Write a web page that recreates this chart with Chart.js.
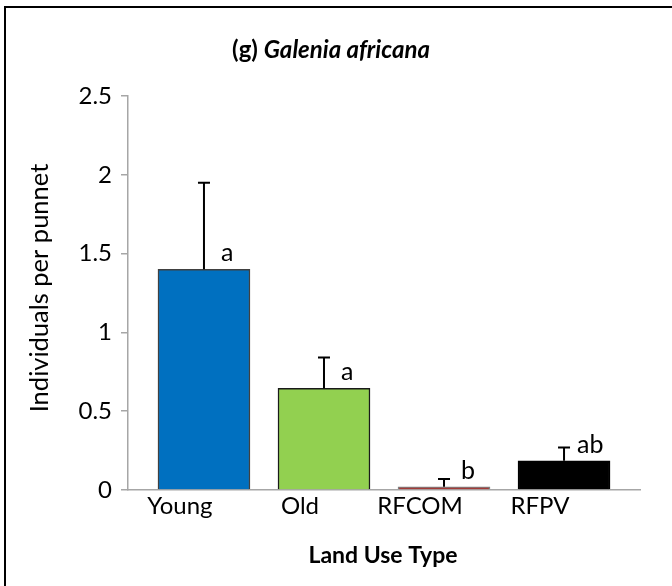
<!DOCTYPE html>
<html>
<head>
<meta charset="utf-8">
<script src="https://cdn.jsdelivr.net/npm/chart.js@4.4.1/dist/chart.umd.min.js"></script>
<style>
  body { margin: 0; background: #fff; }
  #wrap { width: 672px; height: 586px; }
</style>
</head>
<body>
<div id="wrap"><canvas id="chart" width="672" height="586"></canvas></div>
<script>
// values
const categories = ['Young', 'Old', 'RFCOM', 'RFPV'];
const means = [1.4, 0.645, 0.02, 0.185];
const errorPlus = [0.55, 0.195, 0.05, 0.085];
const letters = ['a', 'a', 'b', 'ab'];
const yTicks = [0, 0.5, 1, 1.5, 2, 2.5];

const barColors = ['#0070C0', '#92D050', '#A33B38', '#000000'];
const barBorders = ['#404040', '#1a1a1a', '#808080', '#000000'];
const FONT = 'Lato, "Open Sans", sans-serif';

// error bars, letters, category labels, titles and frame
const extras = {
  id: 'extras',
  afterDatasetsDraw(chart) {
    const { ctx, scales: { x, y } } = chart;
    ctx.save();
    ctx.strokeStyle = '#000';
    ctx.lineWidth = 2;
    means.forEach((m, i) => {
      const px = x.getPixelForValue(i);
      const yBar = y.getPixelForValue(m);
      const yTop = y.getPixelForValue(m + errorPlus[i]);
      ctx.beginPath();
      ctx.moveTo(px, yBar);
      ctx.lineTo(px, yTop);
      ctx.moveTo(px - 6, yTop);
      ctx.lineTo(px + 6, yTop);
      ctx.stroke();

      ctx.fillStyle = '#000';
      ctx.font = '25px ' + FONT;
      ctx.textAlign = 'left';
      ctx.textBaseline = 'alphabetic';
      ctx.fillText(letters[i], px + (letters[i].length > 1 ? 13 : 17), yBar - 8);

      ctx.font = '24px ' + FONT;
      ctx.textAlign = 'center';
      ctx.fillText(categories[i], px - 24, 514);
    });

    // title, mixed bold / bold italic
    const t1 = '(g) ', t2 = 'Galenia africana';
    ctx.font = 'bold 24px ' + FONT;
    const w1 = ctx.measureText(t1).width;
    ctx.font = 'italic bold 24px ' + FONT;
    const w2 = ctx.measureText(t2).width;
    const tx = 331 - (w1 + w2) / 2;
    ctx.textAlign = 'left';
    ctx.textBaseline = 'middle';
    ctx.font = 'bold 24px ' + FONT;
    ctx.fillText(t1, tx, 50);
    ctx.font = 'italic bold 24px ' + FONT;
    ctx.fillText(t2, tx + w1, 50);

    ctx.font = 'bold 23px ' + FONT;
    ctx.textAlign = 'center';
    ctx.fillText('Land Use Type', 383, 556);

    ctx.save();
    ctx.translate(40, 288);
    ctx.rotate(-Math.PI / 2);
    ctx.font = '25.5px ' + FONT;
    ctx.fillText('Individuals per punnet', 0, 0);
    ctx.restore();

    // outer frame (only left and top edges fall inside the picture)
    ctx.strokeStyle = '#000';
    ctx.lineWidth = 2;
    ctx.beginPath();
    ctx.moveTo(5, 590);
    ctx.lineTo(5, 7);
    ctx.lineTo(680, 7);
    ctx.stroke();
    ctx.restore();
  }
};

new Chart(document.getElementById('chart'), {
  type: 'bar',
  data: {
    datasets: [{
      data: means.map((m, i) => ({ x: i, y: m })),
      backgroundColor: barColors,
      borderColor: barBorders,
      borderWidth: 1.5,
      barThickness: 92
    }]
  },
  options: {
    responsive: false,
    animation: false,
    layout: { padding: { left: 58, top: 96, right: 32, bottom: 96 } },
    plugins: { legend: { display: false }, tooltip: { enabled: false } },
    scales: {
      x: {
        type: 'linear',
        offset: false,
        min: -0.633,
        max: 3.633,
        ticks: { display: false },
        grid: { display: false },
        border: { color: '#a6a6a6', width: 1.5 },
        afterFit: s => { s.height = 0; }
      },
      y: {
        min: 0,
        max: 2.5,
        afterBuildTicks: s => { s.ticks = yTicks.map(v => ({ value: v })); },
        ticks: {
          color: '#000',
          font: { family: FONT, size: 24 },
          padding: 9,
          callback: v => String(v)
        },
        grid: { display: true, drawOnChartArea: false, drawTicks: true, tickLength: 7, color: '#a6a6a6', lineWidth: 1.5 },
        border: { color: '#a6a6a6', width: 1.5 },
        afterFit: s => { s.width = 70; }
      }
    }
  },
  plugins: [extras]
});
</script>
</body>
</html>
